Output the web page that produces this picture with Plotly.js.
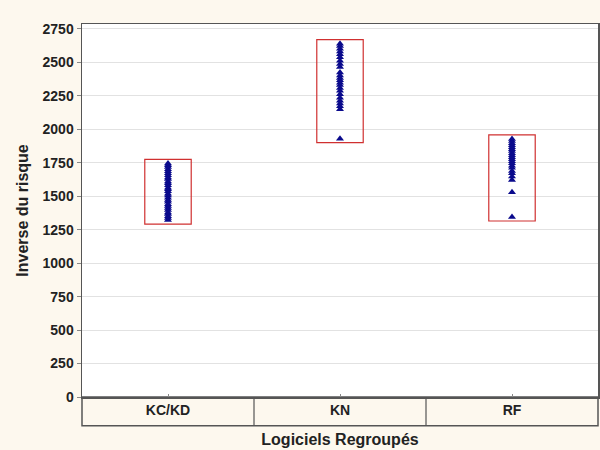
<!DOCTYPE html>
<html>
<head>
<meta charset="utf-8">
<script src="https://cdn.plot.ly/plotly-3.0.1.min.js"></script>
<style>
html,body{margin:0;padding:0;background:#fdf8ee;}
#chart{width:600px;height:450px;}
</style>
</head>
<body>
<div id="chart"></div>
<script>
const categories = ["KC/KD", "KN", "RF"];
const kcValues = [1322, 1338, 1351, 1368, 1379, 1397, 1412, 1428, 1441, 1459, 1472, 1488, 1506, 1519, 1537, 1552, 1564, 1583, 1597, 1611, 1628, 1641, 1656, 1672, 1687, 1701, 1718, 1731, 1745];
const knValues = [1930, 2150, 2172, 2193, 2214, 2236, 2262, 2288, 2309, 2331, 2348, 2366, 2384, 2402, 2425, 2465, 2488, 2512, 2538, 2561, 2582, 2603, 2622, 2640];
const rfValues = [1345, 1530, 1622, 1648, 1671, 1689, 1712, 1728, 1746, 1761, 1777, 1792, 1806, 1821, 1838, 1852, 1866, 1881, 1896, 1912, 1928];
const yTicks = [0, 250, 500, 750, 1000, 1250, 1500, 1750, 2000, 2250, 2500, 2750];

const series = [kcValues, knValues, rfValues];
const traces = series.map((vals, i) => ({
  type: "scatter",
  mode: "markers",
  x: vals.map(() => categories[i]),
  y: vals,
  marker: {symbol: "triangle-up", size: 7, color: "#0a0a8c"},
  hoverinfo: "y",
  showlegend: false
}));

const pad = 30;
const halfW = 0.135;
const shapes = [];
series.forEach((vals, i) => {
  shapes.push({
    type: "rect", xref: "x", yref: "y",
    x0: i - halfW, x1: i + halfW,
    y0: Math.min(...vals) - pad, y1: Math.max(...vals) + pad,
    line: {color: "#d03030", width: 1.2}, fillcolor: "rgba(0,0,0,0)"
  });
});
// category band below the plot
shapes.push({
  type: "rect", xref: "paper", yref: "paper",
  x0: 0, x1: 1, y0: -0.077, y1: 0,
  line: {color: "#555", width: 1.5}, fillcolor: "#fdf8ee", layer: "below"
});
[0.5, 1.5].forEach(d => {
  shapes.push({
    type: "line", xref: "x", yref: "paper",
    x0: d, x1: d, y0: -0.077, y1: 0,
    line: {color: "#555", width: 1.2}
  });
});

const layout = {
  width: 600, height: 450,
  paper_bgcolor: "#fdf8ee",
  plot_bgcolor: "#ffffff",
  margin: {l: 82, r: 2, t: 24, b: 53},
  font: {family: "Liberation Sans, Arial, sans-serif", color: "#222"},
  xaxis: {
    type: "category",
    categoryarray: categories,
    range: [-0.5, 2.5],
    showgrid: false,
    zeroline: false,
    showline: true, mirror: true,
    linecolor: "#555", linewidth: 1.5,
    ticks: "inside", ticklen: 3, tickcolor: "#888",
    tickfont: {size: 14, family: "Liberation Sans, Arial, sans-serif", weight: "bold", color: "#222"},
    ticklabelstandoff: 0,
    title: {text: "Logiciels Regroupés", font: {size: 16, weight: "bold", color: "#222"}, standoff: 16},
    fixedrange: true
  },
  yaxis: {
    range: [0, 2787],
    tickvals: yTicks,
    ticktext: yTicks.map(String),
    showgrid: true, gridcolor: "#e2e2e2", gridwidth: 1,
    zeroline: false,
    showline: true, mirror: true,
    linecolor: "#555", linewidth: 1.5,
    ticks: "outside", ticklen: 4, tickcolor: "#888",
    tickfont: {size: 14, family: "Liberation Sans, Arial, sans-serif", weight: "bold", color: "#222"},
    title: {text: "Inverse du risque", font: {size: 16, weight: "bold", color: "#222"}, standoff: 10},
    fixedrange: true
  },
  shapes: shapes
};

Plotly.newPlot("chart", traces, layout, {displayModeBar: false, staticPlot: true});
</script>
</body>
</html>
